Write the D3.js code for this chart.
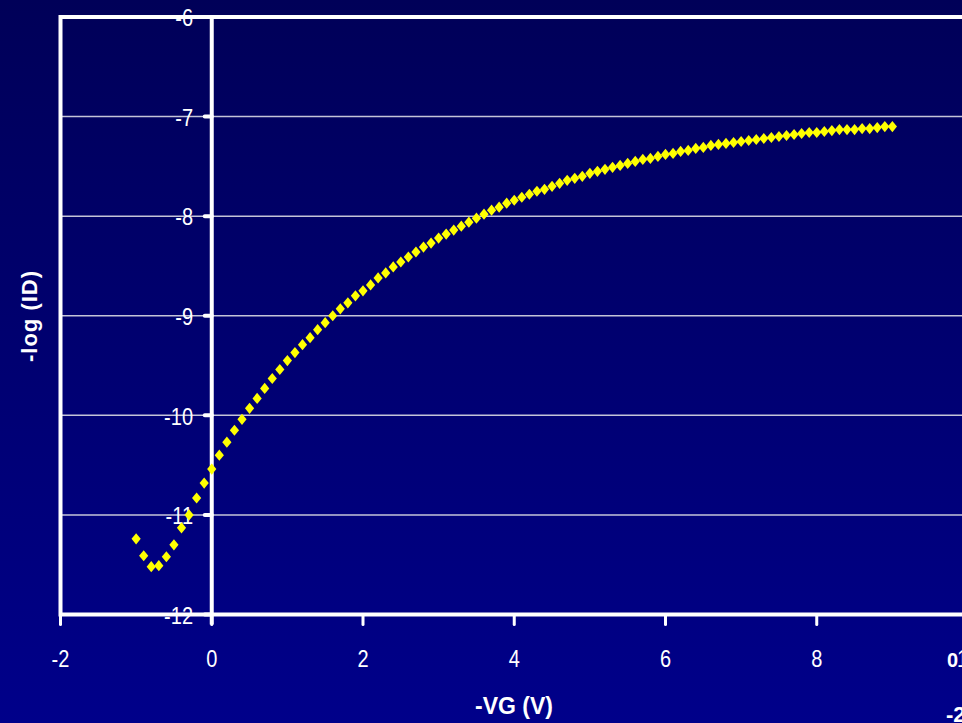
<!DOCTYPE html>
<html>
  <head>
    <meta charset="utf-8">
    <title></title>
    <script src="https://cdn.jsdelivr.net/npm/d3@7/dist/d3.min.js" charset="utf-8"></script>
    <style>
      html, body {margin: 0; padding: 0; overflow: hidden; background: #00006a;}
      svg {display: block;}
    </style>
    <script>
    // -VG (V)
    let vg=[
      -1.0,-0.9,-0.8,-0.7,-0.6,-0.5,-0.4,-0.3,-0.2,-0.1,
      0.0,0.1,0.2,0.3,0.4,0.5,0.6,0.7,0.8,0.9,
      1.0,1.1,1.2,1.3,1.4,1.5,1.6,1.7,1.8,1.9,
      2.0,2.1,2.2,2.3,2.4,2.5,2.6,2.7,2.8,2.9,
      3.0,3.1,3.2,3.3,3.4,3.5,3.6,3.7,3.8,3.9,
      4.0,4.1,4.2,4.3,4.4,4.5,4.6,4.7,4.8,4.9,
      5.0,5.1,5.2,5.3,5.4,5.5,5.6,5.7,5.8,5.9,
      6.0,6.1,6.2,6.3,6.4,6.5,6.6,6.7,6.8,6.9,
      7.0,7.1,7.2,7.3,7.4,7.5,7.6,7.7,7.8,7.9,
      8.0,8.1,8.2,8.3,8.4,8.5,8.6,8.7,8.8,8.9,
      9.0
    ];
    // -log (ID)
    let logId=[
      -11.24,-11.41,-11.52,-11.51,-11.42,-11.30,-11.13,-11.00,-10.83,-10.68,
      -10.54,-10.40,-10.27,-10.15,-10.04,-9.93,-9.83,-9.73,-9.63,-9.54,
      -9.45,-9.37,-9.29,-9.22,-9.14,-9.07,-9.00,-8.93,-8.87,-8.80,
      -8.75,-8.69,-8.62,-8.57,-8.51,-8.46,-8.41,-8.36,-8.31,-8.27,
      -8.22,-8.18,-8.14,-8.10,-8.06,-8.02,-7.98,-7.94,-7.91,-7.87,
      -7.84,-7.81,-7.78,-7.75,-7.73,-7.70,-7.67,-7.64,-7.62,-7.60,
      -7.57,-7.55,-7.53,-7.51,-7.49,-7.47,-7.45,-7.43,-7.42,-7.40,
      -7.38,-7.37,-7.35,-7.34,-7.32,-7.31,-7.29,-7.28,-7.27,-7.26,
      -7.25,-7.24,-7.23,-7.22,-7.21,-7.20,-7.19,-7.18,-7.17,-7.16,
      -7.16,-7.15,-7.14,-7.13,-7.13,-7.13,-7.12,-7.12,-7.11,-7.10,
      -7.10
    ];
    let xTicks=[-2, 0, 2, 4, 6, 8, 10];
    let yTicks=[-6, -7, -8, -9, -10, -11, -12];

    window.onload=function (){
      let W=962, H=723;
      let svg=d3.select('body').append('svg').attr('width', W).attr('height', H);

      //背景渐变
      let grad=svg.append('defs').append('linearGradient')
        .attr('id', 'bg').attr('x1', 0).attr('y1', 0).attr('x2', 0).attr('y2', 1);
      grad.append('stop').attr('offset', '0%').attr('stop-color', '#000058');
      grad.append('stop').attr('offset', '100%').attr('stop-color', '#00008a');
      svg.append('rect').attr('width', W).attr('height', H).attr('fill', 'url(#bg)');

      //比例尺
      let x=d3.scaleLinear().domain([-2, 10]).range([60.5, 968]);
      let y=d3.scaleLinear().domain([-12, -6]).range([614.5, 17]);

      let left=x(-2), top=y(-6), bottom=y(-12);

      //网格线
      svg.append('g').selectAll('line')
        .data(yTicks.filter(t=>t!=-6 && t!=-12))
        .enter().append('line')
        .attr('x1', left).attr('x2', W+10)
        .attr('y1', d=>y(d)).attr('y2', d=>y(d))
        .attr('stroke', '#c4c4d8').attr('stroke-width', 1.5);

      //x刻度
      svg.append('g').selectAll('line')
        .data(xTicks)
        .enter().append('line')
        .attr('x1', d=>x(d)).attr('x2', d=>x(d))
        .attr('y1', bottom).attr('y2', bottom+10)
        .attr('stroke', 'white').attr('stroke-width', 3).attr('stroke-linecap', 'round');

      //y刻度
      svg.append('g').selectAll('line')
        .data(yTicks)
        .enter().append('line')
        .attr('x1', x(0)-7).attr('x2', x(0))
        .attr('y1', d=>y(d)).attr('y2', d=>y(d))
        .attr('stroke', 'white').attr('stroke-width', 4).attr('stroke-linecap', 'round');

      //边框
      svg.append('path')
        .attr('d', `M${W+10},${top}H${left}V${bottom}H${W+10}`)
        .attr('fill', 'none').attr('stroke', 'white').attr('stroke-width', 4);

      //y轴 (x=0)
      svg.append('line')
        .attr('x1', x(0)).attr('x2', x(0)).attr('y1', top).attr('y2', bottom+10)
        .attr('stroke', 'white').attr('stroke-width', 4);

      //y轴文字
      svg.append('g').selectAll('text')
        .data(yTicks)
        .enter().append('text')
        .attr('transform', d=>`translate(193, ${y(d)+0.5}) scale(1, 1.22)`)
        .attr('text-anchor', 'end').attr('dy', '0.36em')
        .attr('fill', 'white')
        .style('font', '20px "Liberation Sans", Arial, sans-serif')
        .text(d=>d);

      //x轴文字
      svg.append('g').selectAll('text')
        .data(xTicks)
        .enter().append('text')
        .attr('transform', d=>`translate(${x(d)}, 667) scale(1, 1.2)`)
        .attr('text-anchor', 'middle')
        .attr('fill', 'white')
        .style('font', '20px "Liberation Sans", Arial, sans-serif')
        .text(d=>d);

      //坐标轴标题
      svg.append('text')
        .attr('x', 514).attr('y', 714)
        .attr('text-anchor', 'middle').attr('fill', 'white')
        .style('font', 'bold 23px "Liberation Sans", Arial, sans-serif')
        .text('-VG (V)');

      svg.append('text')
        .attr('transform', 'translate(37, 316) rotate(-90)')
        .attr('text-anchor', 'middle').attr('fill', 'white')
        .style('font', 'bold 22px "Liberation Sans", Arial, sans-serif')
        .style('letter-spacing', '1px')
        .text('-log (ID)');

      //右边被截掉的文字
      svg.append('text')
        .attr('x', 947).attr('y', 667)
        .attr('fill', 'white')
        .style('font', 'bold 20px "Liberation Sans", Arial, sans-serif')
        .text('0');

      svg.append('text')
        .attr('x', 946).attr('y', 722)
        .attr('fill', 'white')
        .style('font', 'bold 22px "Liberation Sans", Arial, sans-serif')
        .text('-2');

      //菱形点
      let diamond={
        draw(ctx, size){
          let w=4.6, h=5.6;
          ctx.moveTo(0, -h);
          ctx.lineTo(w, 0);
          ctx.lineTo(0, h);
          ctx.lineTo(-w, 0);
          ctx.closePath();
        }
      };
      let sym=d3.symbol().type(diamond);

      svg.append('g').selectAll('path')
        .data(vg.map((v, i)=>({x: v, y: logId[i]})))
        .enter().append('path')
        .attr('d', sym())
        .attr('transform', d=>`translate(${x(d.x)}, ${y(d.y)})`)
        .attr('fill', '#ffff00');
    };
    </script>
  </head>
  <body>
  </body>
</html>
